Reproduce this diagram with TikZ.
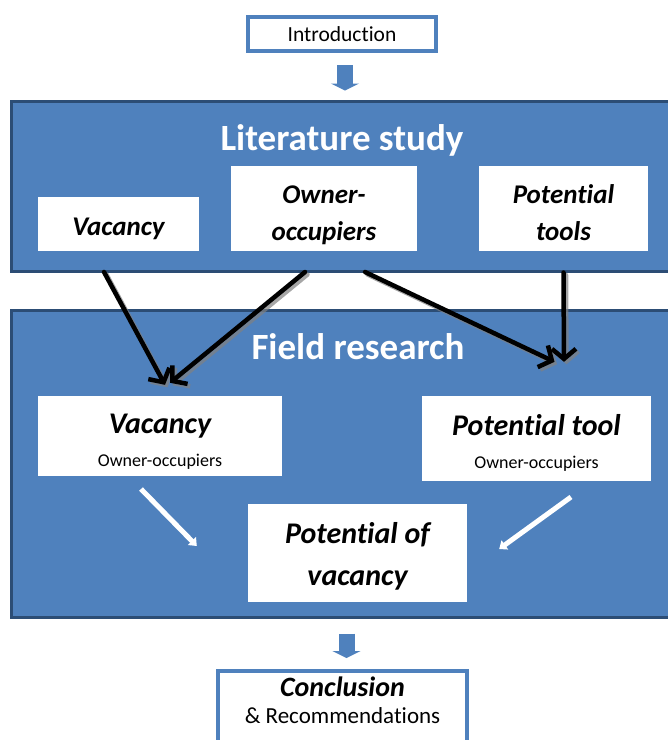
\documentclass[tikz,border=0pt]{standalone}
\usepackage{fontspec}
\setmainfont{Carlito}[Ligatures=NoCommon]
\usetikzlibrary{positioning,arrows.meta,calc}
\definecolor{panelblue}{HTML}{4F81BD}
\definecolor{paneledge}{HTML}{2C4D75}
\definecolor{boxblue}{HTML}{4F81BD}
\newcommand{\padtop}[1]{\rule{0pt}{#1}}

\begin{document}
\begin{tikzpicture}[
    x=1pt, y=-1pt,
    outline/.style={draw=boxblue, line width=4pt, fill=white, inner sep=0pt},
    panel/.style={draw=paneledge, fill=panelblue, line width=3pt, inner sep=0pt},
    heading/.style={text=white, font=\bfseries\fontsize{37}{40}\selectfont},
    card/.style={fill=white, align=center, inner sep=0pt},
    bi/.style 2 args={font=\bfseries\itshape\fontsize{#1}{#2}\selectfont},
    blk/.style={-{Triangle[width=28pt,length=7pt]}, line width=16pt, boxblue},
    flow/.style={-{Straight Barb[length=10pt,width=24pt]}, line width=4.5pt, line cap=round, black},
    flowshade/.style={flow, black!50, opacity=0.7},
    hollow/.style={-{Triangle[width=11pt,length=7pt]}, line width=5pt, white},
]
  \useasboundingbox (0,0) rectangle (668,740);
  \clip (0,0) rectangle (668,740);
  % top and bottom boxes
  \node[outline, minimum width=188, minimum height=34, font=\fontsize{21.5}{24}\selectfont] (intro) at (342,34)
    {Introduction};
  % literature study
  \node[panel, minimum width=669, minimum height=170] (lit) at (345.5,186) {};
  \node[heading] (littitle) at (342,140) {Literature study};
  \node[card, bi={27}{36}, minimum width=161, minimum height=54] (lvac) at (118.5,224) {\padtop{28pt}Vacancy};
  \node[card, bi={27}{37}, minimum width=186, minimum height=85, text depth=2pt] (lown) at (324,208.5) {\padtop{28pt}Owner-\\occupiers};
  \node[card, bi={27}{37}, minimum width=169, minimum height=85] (ltool) at (563.5,208.5) {\padtop{28pt}Potential\\tools};
  % field research
  \node[panel, minimum width=669, minimum height=307] (field) at (345.5,463.5) {};
  \node[heading] (fieldtitle) at (358,347) {Field research};
  \node[card, bi={30}{33}, minimum width=244, minimum height=80] (fvac) at (160,436)
    {\padtop{30pt}Vacancy\\\mdseries\upshape\fontsize{18}{20}\selectfont Owner-occupiers};
  \node[card, bi={30}{33}, minimum width=229, minimum height=85] (ftool) at (536.5,438.5)
    {\padtop{30pt}Potential tool\\\mdseries\upshape\fontsize{18}{20}\selectfont Owner-occupiers};
  \node[card, bi={30}{42}, minimum width=219, minimum height=98] (pov) at (357.5,553)
    {\padtop{28pt}Potential of\\vacancy};
  % conclusion
  \node[outline, minimum width=249, minimum height=100, anchor=north] (concl) at (342.5,669) {};
  \node[align=center, anchor=base, inner sep=0pt, bi={28}{27}] (concltext) at (342.5,723)
    {Conclusion\\\mdseries\upshape\fontsize{23}{27}\selectfont \& Recommendations};
  % block arrows
  \draw[blk, shorten <=12pt, shorten >=9pt] ([xshift=3]intro.south) -- ([xshift=3]intro.south |- lit.north);
  \draw[blk, shorten <=15pt, shorten >=11pt] ([xshift=4]field.south -| concl.north) -- ([xshift=4]concl.north);
  % free ends of the black arrows
  \coordinate (s1) at (104,272);
  \coordinate (s2) at (305,272);
  \coordinate (s3) at (365,272);
  \coordinate (s4) at (lit.south -| ltool);
  \coordinate (e1) at ([xshift=5,yshift=11]fvac.north);
  \coordinate (e2) at ([xshift=10,yshift=13]fvac.north);
  \coordinate (e3) at ([xshift=18,yshift=34]ftool.north);
  \coordinate (e4) at ([xshift=27.5,yshift=34]ftool.north);
  \foreach \a/\b in {s1/e1, s2/e2, s3/e3, s4/e4}{
    \draw[flowshade] ([shift={(2.5,2.5)}]\a) -- ([shift={(2.5,2.5)}]\b);
    \draw[flow] (\a) -- (\b);
  }
  % white arrows
  \coordinate (w1) at (141,489);
  \coordinate (w2) at (571,497);
  \draw[hollow] (w1) -- ([xshift=-51,yshift=7]pov.west);
  \draw[hollow] (w2) -- ([xshift=32,yshift=4]pov.east);
\end{tikzpicture}
\end{document}
